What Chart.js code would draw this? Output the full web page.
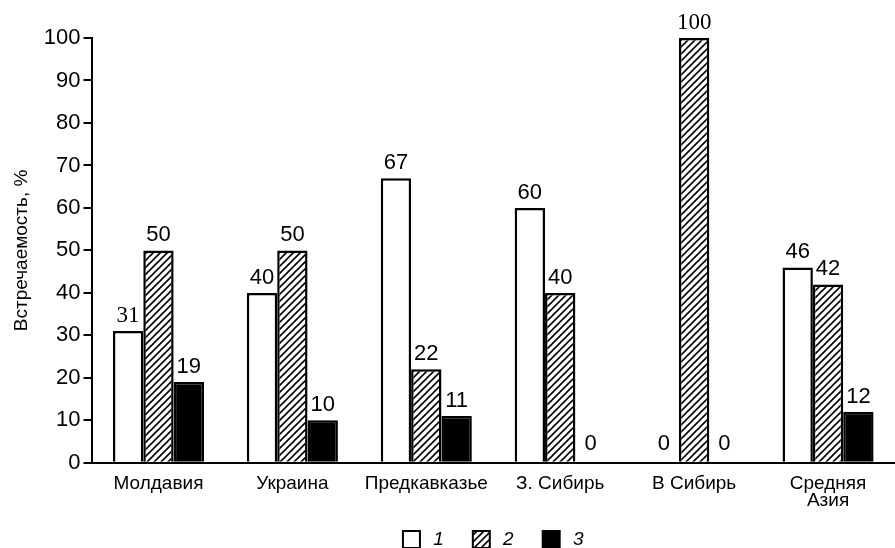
<!DOCTYPE html>
<html>
<head>
<meta charset="utf-8">
<script src="https://cdn.jsdelivr.net/npm/chart.js@4/dist/chart.umd.min.js"></script>
<style>
html,body{margin:0;padding:0;background:#fff;}
#c{display:block;}
</style>
</head>
<body>
<canvas id="c" width="895" height="548"></canvas>
<script>
const categories = ['Молдавия', 'Украина', 'Предкавказье', 'З. Сибирь', 'В Сибирь', ['Средняя', 'Азия']];
const series1 = [31, 40, 67, 60, 0, 46];
const series2 = [50, 50, 22, 40, 100, 42];
const series3 = [19, 10, 11, 0, 0, 12];
const seriesNames = ['1', '2', '3'];
const yTicks = [0, 10, 20, 30, 40, 50, 60, 70, 80, 90, 100];

const SANS = '"Liberation Sans", Arial, Helvetica, sans-serif';
const SERIF = '"Liberation Serif", "Times New Roman", serif';

function hatch() {
  const s = 7;
  const pc = document.createElement('canvas');
  pc.width = s; pc.height = s;
  const g = pc.getContext('2d');
  g.fillStyle = '#fff';
  g.fillRect(0, 0, s, s);
  g.strokeStyle = '#000';
  g.lineWidth = 1.6;
  g.beginPath();
  g.moveTo(-1, s + 1); g.lineTo(s + 1, -1);
  g.moveTo(-1, 1); g.lineTo(1, -1);
  g.moveTo(s - 1, s + 1); g.lineTo(s + 1, s - 1);
  g.stroke();
  return document.getElementById('c').getContext('2d').createPattern(pc, 'repeat');
}
const hatchPattern = hatch();

const serifLabels = { '0-0': true, '1-4': true };

const valueLabels = {
  id: 'valueLabels',
  afterDatasetsDraw(chart) {
    const ctx = chart.ctx;
    ctx.save();
    ctx.fillStyle = '#000';
    ctx.textAlign = 'center';
    ctx.textBaseline = 'bottom';
    chart.data.datasets.forEach((ds, di) => {
      const meta = chart.getDatasetMeta(di);
      meta.data.forEach((el, i) => {
        const serif = serifLabels[di + '-' + i];
        ctx.font = serif ? '23px ' + SERIF : '22px ' + SANS;
        ctx.fillText(String(ds.data[i]), el.x, el.y - (ds.data[i] === 0 ? 8 : 4));
      });
    });
    ctx.restore();
  }
};

new Chart(document.getElementById('c'), {
  type: 'bar',
  data: {
    labels: categories,
    datasets: [
      { label: seriesNames[0], data: series1, backgroundColor: '#fff', borderColor: '#000', borderWidth: 2.5 },
      { label: seriesNames[1], data: series2, backgroundColor: hatchPattern, borderColor: '#000', borderWidth: 2.5 },
      { label: seriesNames[2], data: series3, backgroundColor: '#000', borderColor: '#000', borderWidth: 2.5 }
    ]
  },
  options: {
    responsive: false,
    animation: false,
    devicePixelRatio: 1,
    layout: { padding: { top: 38, right: 0, left: 10, bottom: -11 } },
    datasets: { bar: { categoryPercentage: 0.68, barPercentage: 1.0 } },
    scales: {
      x: {
        grid: { display: false },
        border: { display: true, color: '#000', width: 2 },
        ticks: { color: '#000', font: { family: SANS, size: 19, lineHeight: 0.9 }, maxRotation: 0, autoSkip: false, padding: 4 },
        afterFit(scale) { scale.height += 7; }
      },
      y: {
        min: 0, max: 100,
        afterBuildTicks(scale) { scale.ticks = yTicks.map(v => ({ value: v })); },
        grid: { drawOnChartArea: false, drawTicks: true, tickLength: 8, color: '#000', lineWidth: 2 },
        border: { display: true, color: '#000', width: 2 },
        ticks: { color: '#000', font: { family: SANS, size: 22 }, padding: 3 },
        title: { display: true, text: 'Встречаемость, %', color: '#000', font: { family: SANS, size: 19 }, padding: { top: 0, bottom: 8 } }
      }
    },
    plugins: {
      tooltip: { enabled: false },
      legend: {
        position: 'bottom',
        fullSize: false,
        labels: {
          color: '#000',
          font: { family: SANS, size: 19, style: 'italic' },
          boxWidth: 17, boxHeight: 17, padding: 10,
          generateLabels(chart) {
            const items = Chart.defaults.plugins.legend.labels.generateLabels(chart);
            items.forEach((it, k) => {
              it.lineWidth = 2;
              it.strokeStyle = '#000';
              it.text = '\u2009' + it.text + (k < items.length - 1 ? '\u2003' : '');
            });
            return items;
          }
        }
      }
    }
  },
  plugins: [valueLabels]
});
</script>
</body>
</html>
